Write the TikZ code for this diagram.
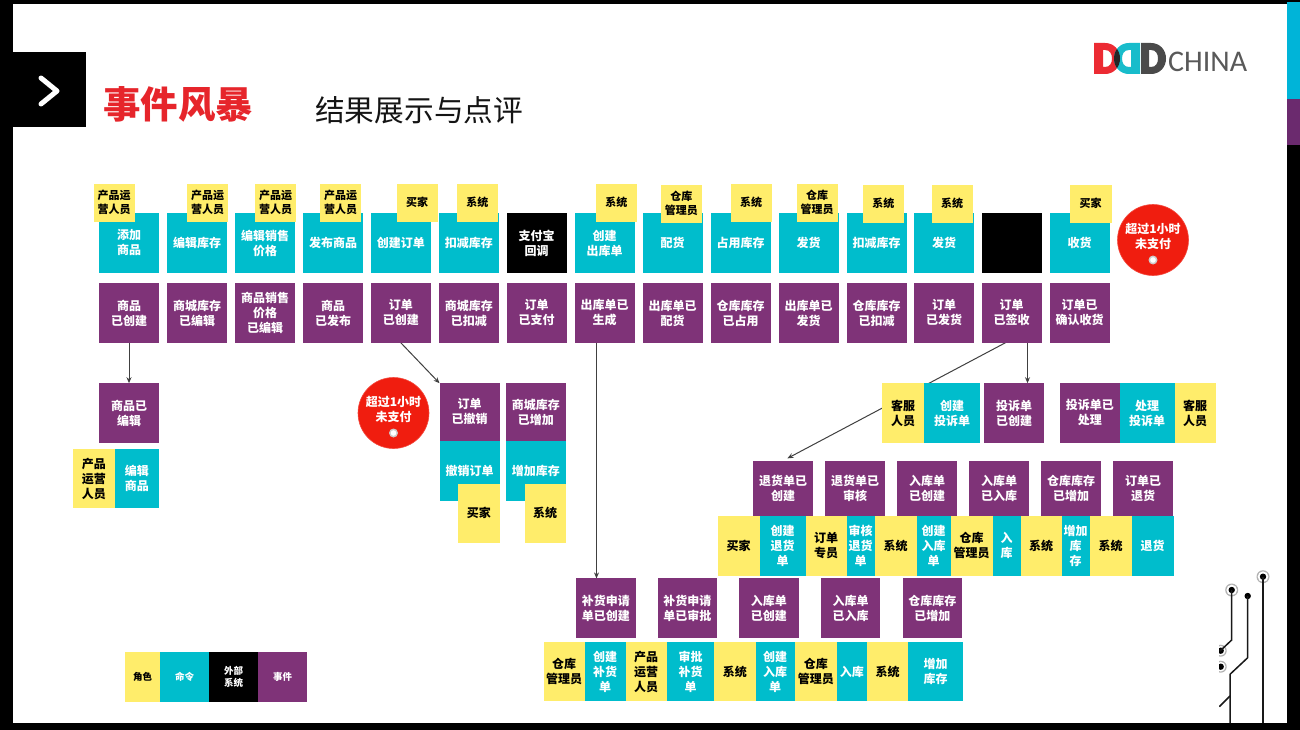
\documentclass[tikz,border=0pt]{standalone}
\usepackage{fontspec}
\setmainfont{Noto Sans CJK SC}
\newfontfamily\logofont{Carlito}
\usetikzlibrary{arrows.meta}
\definecolor{cmdc}{HTML}{00BDCC}
\definecolor{evc}{HTML}{7F3378}
\definecolor{rolec}{HTML}{FFED6B}
\definecolor{redc}{HTML}{F01D0F}
\definecolor{titlec}{HTML}{E6252B}
\definecolor{stripc}{HTML}{00B4D8}
\definecolor{stripp}{HTML}{6B2A6E}
\definecolor{logor}{HTML}{EC2B33}
\definecolor{logot}{HTML}{18BCCB}
\definecolor{logok}{HTML}{4A4A4A}
\pgfdeclarelayer{bg}
\pgfsetlayers{bg,main}
\tikzset{
  boxbase/.style={inner sep=0pt,outer sep=0pt,align=center,anchor=north west},
  ev/.style={boxbase,fill=evc,text=white,font=\bfseries\fontsize{12}{15}\selectfont},
  cmd/.style={boxbase,fill=cmdc,text=white,font=\bfseries\fontsize{12}{15}\selectfont},
  ext/.style={boxbase,fill=black,text=white,font=\bfseries\fontsize{12}{15}\selectfont},
  role/.style={boxbase,fill=rolec,text=black,font=\bfseries\fontsize{12}{15}\selectfont},
  toprole/.style={boxbase,fill=rolec,text=black,font=\bfseries\fontsize{11}{14}\selectfont},
  small/.style={font=\bfseries\fontsize{9.5}{12}\selectfont},
  timer/.style={circle,fill=redc,draw=redc!80!white,line width=.6pt,minimum size=71pt,inner sep=0pt,outer sep=0pt},
  timertext/.style={inner sep=0pt,align=center,text=white,font=\bfseries\fontsize{12}{15}\selectfont},
  flow/.style={draw=black!75,line width=1pt,-{Stealth[length=6pt,width=5pt]}},
  trace/.style={draw=black!90,line width=1.5pt},
}
\newcommand\bx[7]{\node[#1,minimum width={(#5-#3)*1pt},minimum height={(#6-#4)*1pt}] (#2) at (#3-0.5,#4-0.3) {#7};}
\newcommand\timerc[3]{%
  \node[timer] (#1) at (#2,#3) {};
  \node[timertext] (#1t) at ([yshift=3.5pt]#1.center) {超过1小时\\未支付};
  \fill[white!80!black] ([yshift=-20pt]#1.center) circle (4.5pt);
  \fill[white] ([yshift=-20pt]#1.center) circle (2.8pt);}
\newcommand\pad[3]{\fill[black!30] (#1,#2) circle (#3); \fill[white] (#1,#2) circle ({#3-1.2pt}); \fill[black] (#1,#2) circle (3.2pt);}
\begin{document}
\begin{tikzpicture}[x=1pt,y=-1pt]
\useasboundingbox (0,0) rectangle (1300,730);
\begin{pgfonlayer}{bg}
\fill[black] (0,0) rectangle (1300,730);
\fill[white] (13,4) rectangle (1287,723);
\fill[stripc] (1287,2) rectangle (1300,99);
\fill[stripp] (1287,99) rectangle (1300,145);
\end{pgfonlayer}
% header
\fill[black] (13,52) rectangle (86,127);
\draw[white,line width=5pt,line cap=round,line join=round] (41,78) -- (57,91) -- (41,104);
\node[inner sep=0pt,text=titlec,font=\bfseries\fontsize{37.4}{40}\selectfont,anchor=west] (title) at (103,104) {事件风暴};
\node[inner sep=0pt,text=black!92,font=\fontsize{29.7}{32}\selectfont,anchor=west] (subtitle) at (315,110) {结果展示与点评};
% logo
\fill[logor,even odd rule] (1094,43) -- (1105,43) .. controls (1114,43) and (1120,50) .. (1120,58.5) .. controls (1120,67) and (1114,74) .. (1105,74) -- (1094,74) -- cycle (1103,50) -- (1105,50) .. controls (1110,50) and (1112,54) .. (1112,58.5) .. controls (1112,63) and (1110,67) .. (1105,67) -- (1103,67) -- cycle;
\fill[logot,even odd rule] (1140,43) -- (1129,43) .. controls (1120,43) and (1114,50) .. (1114,58.5) .. controls (1114,67) and (1120,74) .. (1129,74) -- (1140,74) -- cycle (1131,50) -- (1129,50) .. controls (1124,50) and (1122,54) .. (1122,58.5) .. controls (1122,63) and (1124,67) .. (1129,67) -- (1131,67) -- cycle;
\begin{scope}[even odd rule]
\clip (1094,43) -- (1105,43) .. controls (1114,43) and (1120,50) .. (1120,58.5) .. controls (1120,67) and (1114,74) .. (1105,74) -- (1094,74) -- cycle (1103,50) -- (1105,50) .. controls (1110,50) and (1112,54) .. (1112,58.5) .. controls (1112,63) and (1110,67) .. (1105,67) -- (1103,67) -- cycle;
\fill[black!85] (1140,43) -- (1129,43) .. controls (1120,43) and (1114,50) .. (1114,58.5) .. controls (1114,67) and (1120,74) .. (1129,74) -- (1140,74) -- cycle (1131,50) -- (1129,50) .. controls (1124,50) and (1122,54) .. (1122,58.5) .. controls (1122,63) and (1124,67) .. (1129,67) -- (1131,67) -- cycle;
\end{scope}
\fill[logok,even odd rule] (1141,43) -- (1151,43) .. controls (1160,43) and (1166,50) .. (1166,58.5) .. controls (1166,67) and (1160,74) .. (1151,74) -- (1141,74) -- cycle (1149,50) -- (1151,50) .. controls (1156,50) and (1158,54) .. (1158,58.5) .. controls (1158,63) and (1156,67) .. (1151,67) -- (1149,67) -- cycle;
\node[inner sep=0pt,anchor=west,text=black!65,font=\logofont\fontsize{30}{32}\selectfont] (logotext) at (1168,62) {CHINA};
% commands row
\bx{cmd}{c1}{99.5}{213.5}{159.5}{273}{添加\\商品}
\bx{cmd}{c2}{167.5}{213.5}{227.5}{273}{编辑库存}
\bx{cmd}{c3}{235.5}{213.5}{295.5}{273}{编辑销售\\价格}
\bx{cmd}{c4}{303.5}{213.5}{363.5}{273}{发布商品}
\bx{cmd}{c5}{371.5}{213.5}{431}{273}{创建订单}
\bx{cmd}{c6}{439.5}{213.5}{499}{273}{扣减库存}
\bx{ext}{c7}{507}{213.5}{567}{273}{支付宝\\回调}
\bx{cmd}{c8}{575}{213.5}{635}{273}{创建\\出库单}
\bx{cmd}{c9}{643}{213.5}{703}{273}{配货}
\bx{cmd}{c10}{711}{213.5}{771}{273}{占用库存}
\bx{cmd}{c11}{779}{213.5}{839}{273}{发货}
\bx{cmd}{c12}{847}{213.5}{907}{273}{扣减库存}
\bx{cmd}{c13}{914.5}{213.5}{974.5}{273}{发货}
\bx{ext}{c14}{982}{213.5}{1042}{273}{}
\bx{cmd}{c15}{1050}{213.5}{1110}{273}{收货}
% events row
\bx{ev}{e1}{99.5}{283.5}{159.5}{343}{商品\\已创建}
\bx{ev}{e2}{167.5}{283.5}{227.5}{343}{商城库存\\已编辑}
\bx{ev}{e3}{235.5}{283.5}{295.5}{343}{商品销售\\价格\\已编辑}
\bx{ev}{e4}{303.5}{283.5}{363.5}{343}{商品\\已发布}
\bx{ev}{e5}{371.5}{283.5}{431}{343}{订单\\已创建}
\bx{ev}{e6}{439.5}{283.5}{499}{343}{商城库存\\已扣减}
\bx{ev}{e7}{507}{283.5}{567}{343}{订单\\已支付}
\bx{ev}{e8}{575}{283.5}{635}{343}{出库单已\\生成}
\bx{ev}{e9}{643}{283.5}{703}{343}{出库单已\\配货}
\bx{ev}{e10}{711}{283.5}{771}{343}{仓库库存\\已占用}
\bx{ev}{e11}{779}{283.5}{839}{343}{出库单已\\发货}
\bx{ev}{e12}{847}{283.5}{907}{343}{仓库库存\\已扣减}
\bx{ev}{e13}{914.5}{283.5}{974.5}{343}{订单\\已发货}
\bx{ev}{e14}{982}{283.5}{1042}{343}{订单\\已签收}
\bx{ev}{e15}{1050}{283.5}{1110}{343}{订单已\\确认收货}
% top roles
\bx{toprole}{r1}{94}{184}{135}{222}{产品运\\营人员}
\bx{toprole}{r2}{187.5}{184}{228.5}{222}{产品运\\营人员}
\bx{toprole}{r3}{255.5}{184}{296.5}{222}{产品运\\营人员}
\bx{toprole}{r4}{320.5}{184}{361.5}{222}{产品运\\营人员}
\bx{toprole}{r5}{397}{184}{438}{222}{买家}
\bx{toprole}{r6}{457}{184}{498.5}{222}{系统}
\bx{toprole}{r8}{596}{184}{637.5}{222}{系统}
\bx{toprole}{r9}{661}{185}{702.5}{223}{仓库\\管理员}
\bx{toprole}{r10}{731}{184}{772}{222}{系统}
\bx{toprole}{r11}{797}{184}{838}{222}{仓库\\管理员}
\bx{toprole}{r12}{863}{185}{904.5}{223}{系统}
\bx{toprole}{r13}{932}{185}{973}{223}{系统}
\bx{toprole}{r15}{1070}{185}{1112}{223}{买家}
\timerc{t1}{1153}{240}
% left branch
\bx{ev}{e1b}{99.5}{383.5}{159.5}{443}{商品已\\编辑}
\bx{role}{r1b}{73.5}{449.5}{115}{508.5}{产品\\运营\\人员}
\bx{cmd}{c1b}{115}{449.5}{159.5}{508.5}{编辑\\商品}
% cancel branch
\timerc{t2}{393.5}{413}
\bx{cmd}{cc}{440}{441}{500}{501}{撤销订单}
\bx{ev}{ec}{440}{383.5}{500}{441}{订单\\已撤销}
\bx{role}{rc}{458.7}{484}{500}{543}{买家}
\bx{cmd}{cs}{506.7}{441}{566}{501}{增加库存}
\bx{ev}{es}{506.7}{383.5}{566}{441}{商城库存\\已增加}
\bx{role}{rs}{525.3}{484}{566}{543}{系统}
% complaint row
\bx{role}{rk}{882.5}{383.5}{924.5}{443}{客服\\人员}
\bx{cmd}{ck}{924.5}{383.5}{980.5}{443}{创建\\投诉单}
\bx{ev}{ek}{984.5}{383.5}{1044.5}{443}{投诉单\\已创建}
\bx{ev}{ep}{1060.5}{383.5}{1120}{443}{投诉单已\\处理}
\bx{cmd}{cp}{1120}{383.5}{1175}{443}{处理\\投诉单}
\bx{role}{rp}{1175}{383.5}{1216}{443}{客服\\人员}
% return row
\bx{ev}{u1}{753.5}{461}{813.5}{516}{退货单已\\创建}
\bx{ev}{u2}{825.5}{461}{885.5}{516}{退货单已\\审核}
\bx{ev}{u3}{897.5}{461}{957.5}{516}{入库单\\已创建}
\bx{ev}{u4}{969.5}{461}{1029.5}{516}{入库单\\已入库}
\bx{ev}{u5}{1041.5}{461}{1101.5}{516}{仓库库存\\已增加}
\bx{ev}{u6}{1113.5}{461}{1173.5}{516}{订单已\\退货}
\bx{role}{v1}{718}{516}{760}{576}{买家}
\bx{cmd}{v2}{760}{516}{806}{576}{创建\\退货\\单}
\bx{role}{v3}{806}{516}{847}{576}{订单\\专员}
\bx{cmd}{v4}{847}{516}{875}{576}{审核\\退货\\单}
\bx{role}{v5}{875}{516}{917}{576}{系统}
\bx{cmd}{v6}{917}{516}{951}{576}{创建\\入库\\单}
\bx{role}{v7}{951}{516}{993}{576}{仓库\\管理员}
\bx{cmd}{v8}{993}{516}{1021}{576}{入\\库}
\bx{role}{v9}{1021}{516}{1062}{576}{系统}
\bx{cmd}{v10}{1062}{516}{1090}{576}{增加\\库\\存}
\bx{role}{v11}{1090}{516}{1132}{576}{系统}
\bx{cmd}{v12}{1132}{516}{1174}{576}{退货}
% replenish row
\bx{ev}{w1}{576.5}{578.7}{636}{638.3}{补货申请\\单已创建}
\bx{ev}{w2}{658}{578.7}{717.5}{638.3}{补货申请\\单已审批}
\bx{ev}{w3}{739.7}{578.7}{799}{638.3}{入库单\\已创建}
\bx{ev}{w4}{821.3}{578.7}{880.7}{638.3}{入库单\\已入库}
\bx{ev}{w5}{903}{578.7}{962.7}{638.3}{仓库库存\\已增加}
\bx{role}{x1}{544}{642.3}{585}{701.7}{仓库\\管理员}
\bx{cmd}{x2}{585}{642.3}{626}{701.7}{创建\\补货\\单}
\bx{role}{x3}{626}{642.3}{667.3}{701.7}{产品\\运营\\人员}
\bx{cmd}{x4}{667.3}{642.3}{714.7}{701.7}{审批\\补货\\单}
\bx{role}{x5}{714.7}{642.3}{756}{701.7}{系统}
\bx{cmd}{x6}{756}{642.3}{795.3}{701.7}{创建\\入库\\单}
\bx{role}{x7}{795.3}{642.3}{837.3}{701.7}{仓库\\管理员}
\bx{cmd}{x8}{837.3}{642.3}{867.3}{701.7}{入库}
\bx{role}{x9}{867.3}{642.3}{908.7}{701.7}{系统}
\bx{cmd}{x10}{908.7}{642.3}{963.3}{701.7}{增加\\库存}
% legend
\bx{role,small}{l1}{125.7}{652.7}{160.3}{702}{角色}
\bx{cmd,small}{l2}{160.3}{652.7}{209.7}{702}{命令}
\bx{ext,small}{l3}{209.7}{652.7}{258.3}{702}{外部\\系统}
\bx{ev,small}{l4}{258.3}{652.7}{307.7}{702}{事件}
% connectors
\begin{pgfonlayer}{bg}
\draw[flow] (e1.south) -- (e1b.north);
\draw[flow] (e5.south) -- (ec.north west);
\draw[flow] ([xshift=22pt]e8.south west) -- ([xshift=20.5pt]w1.north west);
\draw[flow] ([xshift=46pt]e14.south west) -- ([xshift=43.5pt]ek.north west);
\draw[flow,shorten >=5pt] ([xshift=24pt]e14.south west) -- (u1.north);
\end{pgfonlayer}
% circuit decoration
\begin{scope}
\clip (1219,560) rectangle (1287,723);
\pad{1231.7}{590}{6.5pt}
\pad{1263}{576.7}{6.5pt}
\pad{1220.7}{650.7}{6pt}
\pad{1220.7}{666.7}{6pt}
\fill[black] (1247.7,596) circle (3.2pt);
\draw[trace] (1231.7,590) -- (1231.7,640) -- (1220,651);
\draw[trace] (1247.7,596) -- (1247.7,657.7) -- (1230,674.3) -- (1230,723);
\draw[trace] (1230,696) -- (1219.3,706.7);
\draw[trace] (1263,576.7) -- (1263,723);
\end{scope}
\end{tikzpicture}
\end{document}
